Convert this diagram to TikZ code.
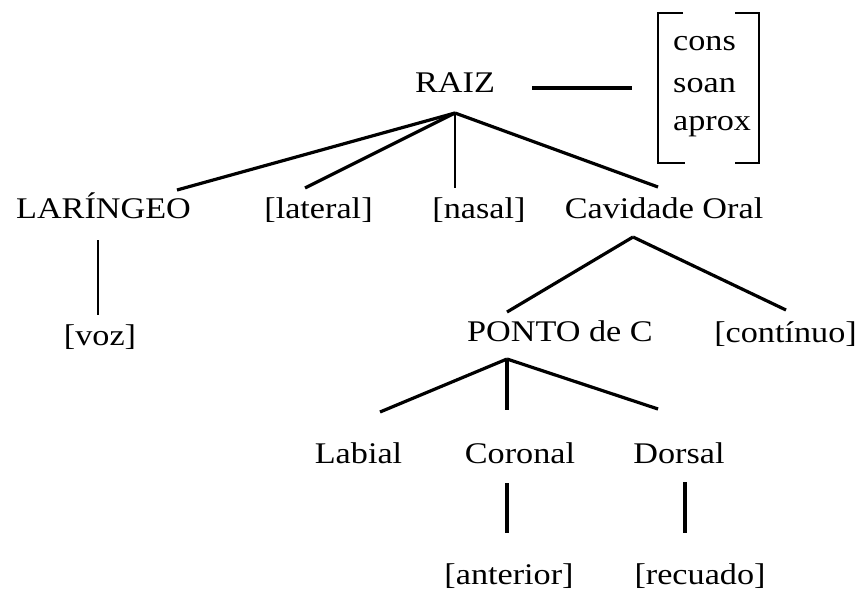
\documentclass[tikz,border=0pt]{standalone}
\usepackage{fontspec}
\setmainfont{Liberation Serif}[FakeStretch=1.14]
\begin{document}
\begin{tikzpicture}[x=1pt,y=-1pt,
  lbl/.style={inner sep=0pt,anchor=base,font=\fontsize{30}{36}\selectfont},
  lblw/.style={inner sep=0pt,anchor=base west,font=\fontsize{30}{36}\selectfont},
  branch/.style={line width=3.2pt},
  thin/.style={line width=2.4pt},
  brk/.style={line width=2.6pt}]
\useasboundingbox[fill=white] (0,0) rectangle (864,592);
% nodes
\node[lbl] (raiz) at (455,92) {RAIZ};
\node[lblw] (cons) at (673,50) {cons};
\node[lblw] (soan) at (673,92) {soan};
\node[lblw] (aprox) at (673,130) {aprox};
\node[lbl] (lar) at (103.5,218) {LARÍNGEO};
\node[lbl] (lat) at (318.5,218) {[lateral]};
\node[lbl] (nas) at (479,218) {[nasal]};
\node[lbl] (cav) at (664,218) {Cavidade Oral};
\node[lbl] (voz) at (100,345) {[voz]};
\node[lbl] (ponto) at (560,341) {PONTO de C};
\node[lbl] (cont) at (785.5,342) {[contínuo]};
\node[lbl] (lab) at (358.5,463) {Labial};
\node[lbl] (cor) at (520,463) {Coronal};
\node[lbl] (dor) at (679,463) {Dorsal};
\node[lbl] (ant) at (509,584) {[anterior]};
\node[lbl] (rec) at (700,584) {[recuado]};
% connector points
\coordinate (raizA) at (455,113);
\coordinate (larT) at (177,190);
\coordinate (latT) at (305,188);
\coordinate (nasT) at (455,188);
\coordinate (cavT) at (658,187);
\coordinate (larB) at (98,240);
\coordinate (vozT) at (98,315);
\coordinate (cavA) at (633,237);
\coordinate (pontoT) at (507,312);
\coordinate (contT) at (786,310);
\coordinate (pontoA) at (507,359);
\coordinate (labT) at (380,412);
\coordinate (corT) at (507,410);
\coordinate (dorT) at (658,409);
\coordinate (corB) at (507,483);
\coordinate (antT) at (507,533);
\coordinate (dorB) at (685,482);
\coordinate (recT) at (685,533);
\coordinate (raizR) at (532,88);
\coordinate (brkL) at (632,88);
% connectors
\draw[branch] (raizA) -- (larT);
\draw[branch] (raizA) -- (latT);
\draw[thin] (raizA) -- (nasT);
\draw[branch] (raizA) -- (cavT);
\draw[thin] (larB) -- (vozT);
\draw[branch] (cavA) -- (pontoT);
\draw[branch] (cavA) -- (contT);
\draw[branch] (pontoA) -- (labT);
\draw[branch] (pontoA) -- (corT);
\draw[branch] (pontoA) -- (dorT);
\draw[branch] (corB) -- (antT);
\draw[branch] (dorB) -- (recT);
\draw[line width=4pt] (raizR) -- (brkL);
% brackets
\draw[brk] (683,13) -- (658,13) -- (658,163) -- (685,163);
\draw[brk] (735,13) -- (759,13) -- (759,163) -- (735,163);
\end{tikzpicture}
\end{document}
